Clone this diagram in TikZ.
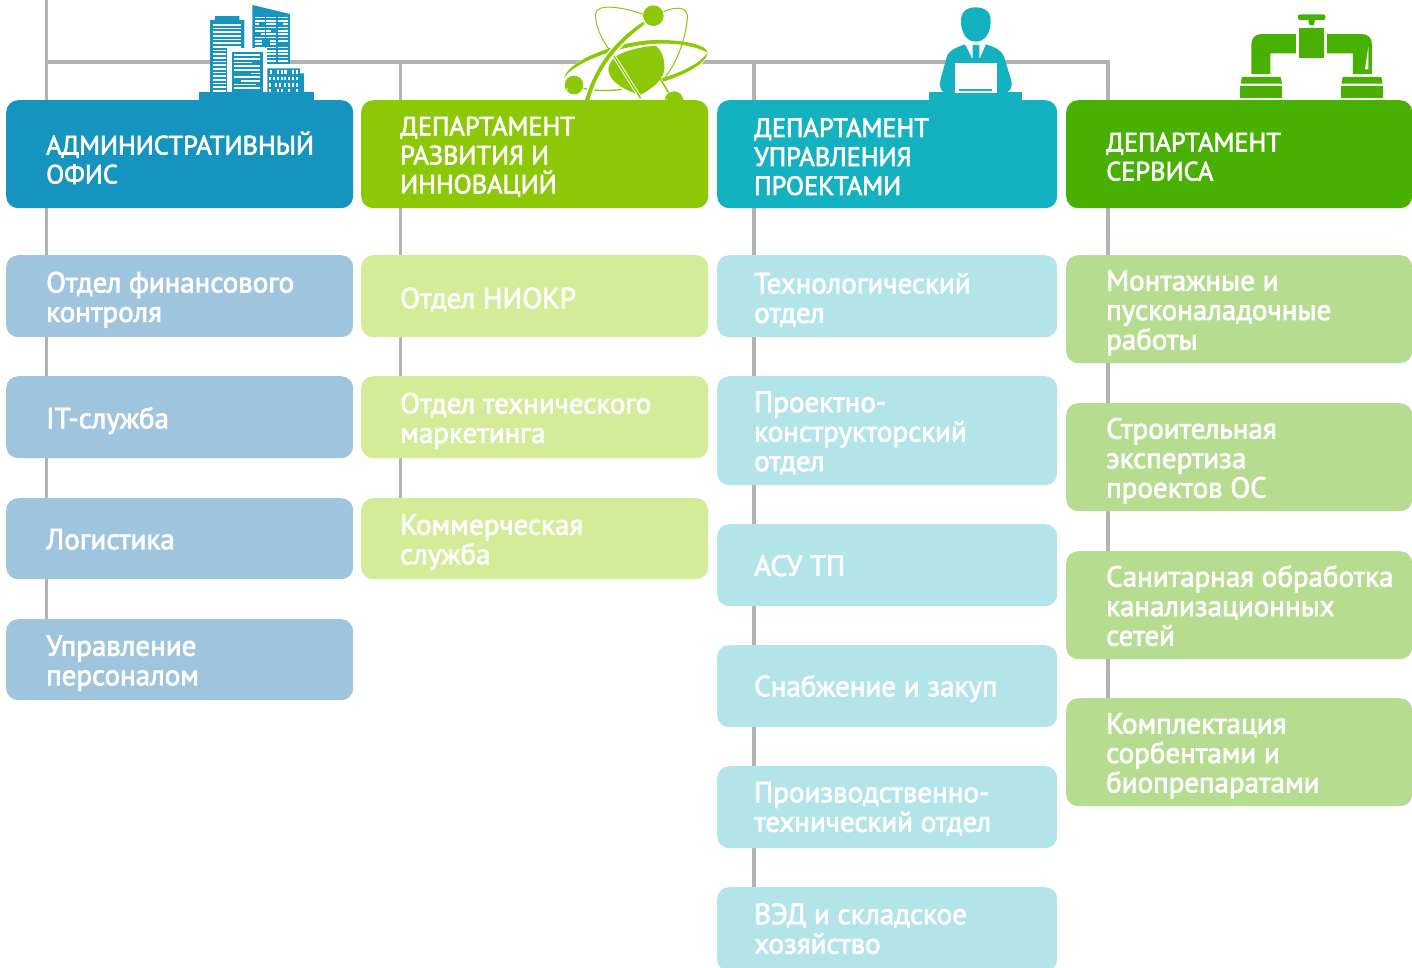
\documentclass[tikz,border=0pt]{standalone}
\usepackage{fontspec}
\setmainfont{PT Sans}[FakeBold=2.5]
\usetikzlibrary{backgrounds,shapes.misc}
\definecolor{hA}{HTML}{1594C0}\definecolor{lA}{HTML}{9FC5DE}
\definecolor{hB}{HTML}{8CC806}\definecolor{lB}{HTML}{D4EB98}
\definecolor{hC}{HTML}{14B1C1}\definecolor{lC}{HTML}{B3E4EA}
\definecolor{hD}{HTML}{48B000}\definecolor{lD}{HTML}{B6DC90}
\definecolor{conn}{HTML}{B3B3B3}
\tikzset{
  ubox/.style={anchor=north west,rounded corners=12pt,draw=none,inner sep=0pt},
  lbl/.style={anchor=west,align=left,text=white,inner sep=0pt,font=\fontsize{29}{29.5}\selectfont},
  hlbl/.style={lbl,font=\fontsize{26.4}{29}\selectfont},
  wire/.style={draw=conn,line width=3.6pt}
}
\newcommand{\ubx}[9]{% name x y w h colour labelstyle labeloffset text
  \node[ubox,fill=#6,minimum width=#4pt,minimum height=#5pt] (#1) at (#2,#3) {};
  \node[#7] (#1t) at ([xshift=#8pt,yshift=-3.5pt]#1.west) {#9};
}
\begin{document}
\begin{tikzpicture}[x=1pt,y=-1pt]
\useasboundingbox (0,0) rectangle (1412,967);
% column 1
\ubx{hA}{6}{100}{347}{108}{hA}{hlbl}{40}{АДМИНИСТРАТИВНЫЙ\\ОФИС}
\ubx{aA}{6}{255}{347}{82}{lA}{lbl}{40}{Отдел финансового\\контроля}
\ubx{bA}{6}{376}{347}{82}{lA}{lbl}{40}{IT-служба}
\ubx{cA}{6}{498}{347}{81}{lA}{lbl,yshift=3pt}{40}{Логистика}
\ubx{dA}{6}{619}{347}{81}{lA}{lbl}{40}{Управление\\персоналом}
% column 2
\ubx{hB}{361}{100}{347}{108}{hB}{hlbl,yshift=1pt}{39}{ДЕПАРТАМЕНТ\\РАЗВИТИЯ И\\ИННОВАЦИЙ}
\ubx{aB}{361}{255}{347}{82}{lB}{lbl}{39}{Отдел НИОКР}
\ubx{bB}{361}{376}{347}{82}{lB}{lbl}{39}{Отдел технического\\маркетинга}
\ubx{cB}{361}{498}{347}{81}{lB}{lbl}{39}{Коммерческая\\служба}
% column 3
\ubx{hC}{717}{100}{340}{108}{hC}{hlbl,yshift=1pt}{37}{ДЕПАРТАМЕНТ\\УПРАВЛЕНИЯ\\ПРОЕКТАМИ}
\ubx{aC}{717}{255}{340}{82}{lC}{lbl}{37}{Технологический\\отдел}
\ubx{bC}{717}{376}{340}{109}{lC}{lbl,yshift=1pt}{37}{Проектно-\\конструкторский\\отдел}
\ubx{cC}{717}{524}{340}{82}{lC}{lbl,yshift=3pt}{37}{АСУ ТП}
\ubx{dC}{717}{645}{340}{82}{lC}{lbl,yshift=1pt}{37}{Снабжение и закуп}
\ubx{eC}{717}{766}{340}{82}{lC}{lbl,yshift=2pt}{37}{Производственно-\\технический отдел}
\ubx{fC}{717}{887}{340}{84}{lC}{lbl,yshift=4pt}{37}{ВЭД и складское\\хозяйство}
% column 4
\ubx{hD}{1066}{100}{346}{108}{hD}{hlbl,yshift=1pt}{40}{ДЕПАРТАМЕНТ\\СЕРВИСА}
\ubx{aD}{1066}{255}{346}{108}{lD}{lbl}{40}{Монтажные и\\пусконаладочные\\работы}
\ubx{bD}{1066}{403}{346}{108}{lD}{lbl}{40}{Строительная\\экспертиза\\проектов ОС}
\ubx{cD}{1066}{551}{346}{108}{lD}{lbl,yshift=3pt}{40}{Санитарная обработка\\канализационных\\сетей}
\ubx{dD}{1066}{698}{346}{108}{lD}{lbl}{40}{Комплектация\\сорбентами и\\биопрепаратами}
\coordinate (tA) at (46.5,0);
\coordinate (jA) at (46.5,62);
\coordinate (tB) at (400.5,62);
\coordinate (tC) at (754,62);
\coordinate (tD) at (1108,62);
\begin{scope}[on background layer]
\fill[white] (0,0) rectangle (1412,967);
\draw[wire] (tA) -- (jA) -- (tA |- hA.north);
\draw[wire,line join=miter] (jA) -- (tD) -- (tD |- hD.north);
\draw[wire] (tB) -- (tB |- hB.north);
\draw[wire] (tC) -- (tC |- hC.north);
\draw[wire] (tA |- hA.south) -- (tA |- aA.north);
\draw[wire] (tA |- aA.south) -- (tA |- bA.north);
\draw[wire] (tA |- bA.south) -- (tA |- cA.north);
\draw[wire] (tA |- cA.south) -- (tA |- dA.north);
\draw[wire] (tB |- hB.south) -- (tB |- aB.north);
\draw[wire] (tB |- aB.south) -- (tB |- bB.north);
\draw[wire] (tB |- bB.south) -- (tB |- cB.north);
\draw[wire] (tC |- hC.south) -- (tC |- aC.north);
\draw[wire] (tC |- aC.south) -- (tC |- bC.north);
\draw[wire] (tC |- bC.south) -- (tC |- cC.north);
\draw[wire] (tC |- cC.south) -- (tC |- dC.north);
\draw[wire] (tC |- dC.south) -- (tC |- eC.north);
\draw[wire] (tC |- eC.south) -- (tC |- fC.north);
\draw[wire] (tD |- hD.south) -- (tD |- aD.north);
\draw[wire] (tD |- aD.south) -- (tD |- bD.north);
\draw[wire] (tD |- bD.south) -- (tD |- cD.north);
\draw[wire] (tD |- cD.south) -- (tD |- dD.north);
% building
\begin{scope}[xshift=180pt,x=0.3333pt,y=-0.3333pt]
\fill[hA] (58,300) -- (58,277) -- (403,277) -- (403,300) -- cycle;
\fill[hA] (90,277) -- (90,60) -- (105,60) -- (105,48) -- (178,48) -- (178,60) -- (193,60) -- (193,277) -- cycle;
\foreach \y in {72,83,94,105,116,127,138}{\fill[white] (100,\y) rectangle (183,\y+5);}
\foreach \y in {149,160,171,182,193,204,215,226,237,248,259,270}{\fill[white] (100,\y) rectangle (138,\y+5);}
\fill[hA] (217,15) -- (330,42) -- (330,192) -- (217,192) -- cycle;
\foreach \y in {50,60,70,80,90,100,110,120,130,140,150,160,170,180}{
  \fill[white] (225,\y) rectangle (255,\y+5);
  \fill[white] (259,\y) rectangle (289,\y+5);
  \fill[white] (293,\y) rectangle (323,\y+5);}
\fill[hA] (236,70) rectangle (255,80);
\fill[hA] (225,100) rectangle (244,110);
\fill[hA] (272,90) rectangle (289,100);
\fill[hA] (293,70) rectangle (308,80);
\fill[hA] (245,120) rectangle (270,135);
\fill[hA] (293,130) rectangle (323,140);
\fill[white] (142,143) rectangle (262,277);
\fill[hA] (155,155) rectangle (248,277);
\foreach \y/\a/\b in {163/163/240,174/163/240,185/163/216,196/163/240,207/163/240,218/212/240,229/163/240,240/182/240,251/163/228,262/163/240}{\fill[white] (\a,\y) rectangle (\b,\y+5);}
\fill[hA] (262,277) -- (262,205) -- (360,205) -- (360,220) -- (372,220) -- (372,277) -- cycle;
\foreach \x in {268,280,291,302,313,324,335,347}{\fill[white] (\x,230) rectangle (\x+6,241);}
\foreach \x in {270,291,302,313,335,347}{\fill[white] (\x,211) rectangle (\x+7,223);}
\foreach \x in {268,284,296,313,324,335,347}{\fill[white] (\x,248) rectangle (\x+6,260);}
\foreach \x in {268,291,302,324,347}{\fill[white] (\x,266) rectangle (\x+6,277);}
\end{scope}
% atom
\begin{scope}[xshift=550pt,x=0.3333pt,y=-0.3333pt]
\fill[white] (42,235) .. controls (55,175) and (230,110) .. (340,115) .. controls (410,118) and (475,135) .. (475,158) .. controls (470,195) and (410,225) .. (340,247) -- (270,300) -- (110,300) -- (100,270) -- cycle;
\fill[hB] (100,263) .. controls (130,270) and (180,272) .. (215,266) -- (215,270) .. controls (180,276) and (130,274) .. (100,267) -- cycle;
\fill[hB] (42,235) .. controls (55,175) and (230,115) .. (340,120) .. controls (410,122) and (470,135) .. (473,158) .. controls (450,145) and (400,130) .. (340,131) .. controls (230,128) and (70,185) .. (42,235) -- cycle;
\fill[hB] (473,158) .. controls (470,190) and (410,222) .. (340,245) -- (335,235) .. controls (400,215) and (450,190) .. (473,158) -- cycle;
\draw[hB,line width=1pt] (340,35) .. controls (390,15) and (415,25) .. (412,55) .. controls (405,130) and (375,195) .. (345,232);
\draw[hB,line width=1pt] (285,45) .. controls (220,20) and (140,10) .. (137,40) .. controls (135,90) and (165,130) .. (185,160);
\fill[hB] (188,178) .. controls (205,155) and (280,138) .. (318,138) .. controls (340,155) and (346,190) .. (342,215) .. controls (335,245) and (300,270) .. (270,285) .. controls (230,272) and (180,250) .. (175,210) .. controls (175,200) and (180,188) .. (188,178) -- cycle;
\draw[white,line width=3.4pt] (190,165) -- (272,295);
\draw[hB,line width=1.5pt] (190,165) -- (272,295);
\draw[hB,line width=1.5pt] (330,235) -- (360,285);
\fill[white] (100,300) .. controls (130,200) and (185,125) .. (278,60) -- (290,76) .. controls (205,140) and (150,205) .. (123,300) -- cycle;
\fill[hB] (105,300) .. controls (135,200) and (190,125) .. (280,65) -- (285,72) .. controls (200,135) and (145,205) .. (118,300) -- cycle;
\fill[white] (310,47) circle [radius=33];
\fill[hB] (310,47) circle [radius=31];
\draw[white,line width=.7pt] (285,60) arc [start angle=210,end angle=110,radius=26];
\fill[white] (72,255) circle [radius=30];
\fill[hB] (72,255) circle [radius=28];
\draw[white,line width=.7pt] (52,265) arc [start angle=210,end angle=110,radius=23];
\fill[white] (372,302) circle [radius=30];
\fill[hB] (372,302) circle [radius=28];
\draw[white,line width=.7pt] (350,296) arc [start angle=190,end angle=110,radius=23];
\end{scope}
% person
\begin{scope}[xshift=920pt,x=0.3333pt,y=-0.3333pt]
\fill[hC] (28,300) -- (28,277) -- (305,277) -- (305,300) -- cycle;
\fill[hC] (167,22) .. controls (200,22) and (213,40) .. (212,65) .. controls (211,100) and (195,125) .. (167,125) .. controls (140,125) and (124,100) .. (123,65) .. controls (122,40) and (135,22) .. (167,22) -- cycle;
\fill[hC] (135,133) -- (158,178) -- (158,135) -- (178,135) -- (178,178) -- (198,133) .. controls (225,142) and (245,150) .. (252,170) -- (275,245) .. controls (277,262) and (270,275) .. (258,277) -- (72,277) .. controls (62,272) and (57,258) .. (61,240) -- (82,165) .. controls (90,150) and (110,142) .. (135,133) -- cycle;
\fill[white] (105,190) rectangle (230,278);
\fill[hC] (118,267) rectangle (216,272);
\end{scope}
% valve
\begin{scope}[xshift=1090pt,x=0.3333pt,y=-0.3333pt]
\fill[hD,rounded corners=2pt] (624,43) rectangle (706,60);
\fill[hD] (655,60) -- (675,60) -- (672,75) -- (658,75) -- cycle;
\fill[hD] (627,83) rectangle (703,173);
\fill[hD] (618,102) -- (515,102) .. controls (495,102) and (484,115) .. (484,133) -- (484,222) -- (541,222) -- (541,160) -- (618,160) -- cycle;
\fill[hD] (711,102) -- (815,102) .. controls (835,102) and (846,115) .. (846,133) -- (846,222) -- (789,222) -- (789,160) -- (711,160) -- cycle;
\fill[white] (835,140) -- (825,208) -- (835,208) -- cycle;
\fill[hD] (456,231) -- (572,231) -- (576,251) -- (452,251) -- cycle;
\fill[hD] (451,259) rectangle (576,293);
\fill[hD] (758,231) -- (874,231) -- (878,251) -- (754,251) -- cycle;
\fill[hD] (753,259) rectangle (878,293);
\end{scope}
\end{scope}
\end{tikzpicture}
\end{document}
